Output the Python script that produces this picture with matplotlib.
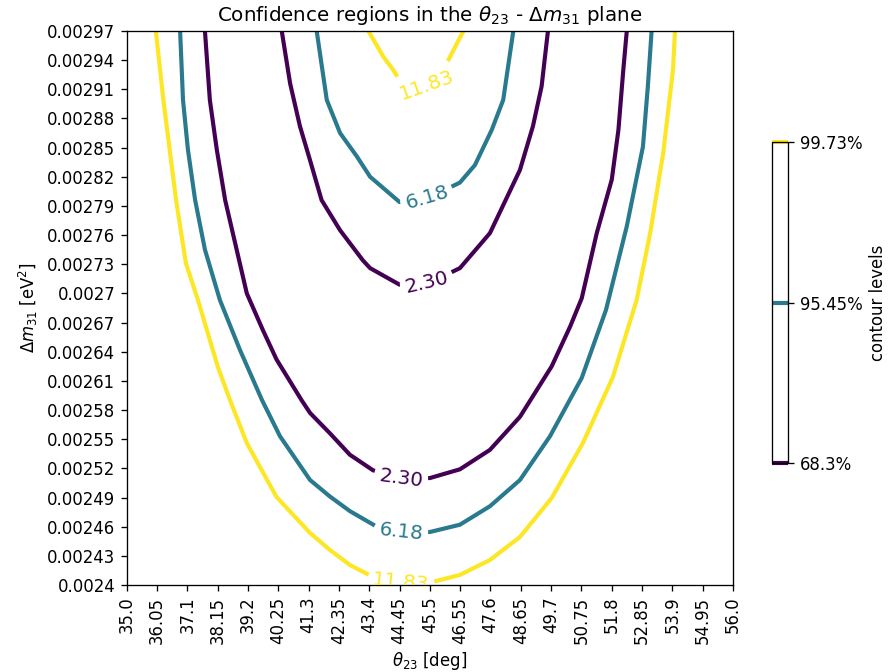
import numpy as np
import matplotlib
matplotlib.use('Agg')
import matplotlib.pyplot as plt
from matplotlib.contour import ContourSet

# chi2 levels and the confidence levels they stand for
chi2_levels = [2.30, 6.18, 11.83]
cl_labels = ['68.3%', '95.45%', '99.73%']

# axis ticks
theta_ticks = [35.0, 36.05, 37.1, 38.15, 39.2, 40.25, 41.3, 42.35, 43.4, 44.45, 45.5,
               46.55, 47.6, 48.65, 49.7, 50.75, 51.8, 52.85, 53.9, 54.95, 56.0]
dm_ticks = [0.0024, 0.00243, 0.00246, 0.00249, 0.00252, 0.00255, 0.00258, 0.00261,
            0.00264, 0.00267, 0.0027, 0.00273, 0.00276, 0.00279, 0.00282, 0.00285,
            0.00288, 0.00291, 0.00294, 0.00297]

# contour lines (theta in deg, dm in 1e-3 eV^2)
# 2.30 (68.3%)
th_230_low = [37.71, 37.88, 38.12, 38.41, 39.16, 39.72, 40.19, 41.06, 41.35, 42.04, 42.73, 43.53,
              44.45, 45.50, 46.54, 47.58, 48.62, 49.72, 50.36, 50.76, 51.28, 51.80, 52.03, 52.20, 52.32]
dm_230_low = [2.970, 2.899, 2.848, 2.796, 2.700, 2.662, 2.632, 2.590, 2.577, 2.556, 2.534, 2.518,
              2.510, 2.510, 2.519, 2.539, 2.573, 2.625, 2.666, 2.695, 2.762, 2.817, 2.868, 2.930, 2.970]
th_230_up = [40.37, 40.66, 41.00, 41.35, 41.75, 42.39, 43.18, 43.43, 44.45, 45.50, 46.54, 47.58, 48.62,
             49.07, 49.37, 49.59]
dm_230_up = [2.970, 2.916, 2.872, 2.837, 2.796, 2.765, 2.734, 2.726, 2.709, 2.711, 2.726, 2.762, 2.827,
             2.872, 2.913, 2.970]
# 6.18 (95.45%)
th_618_low = [36.85, 36.95, 37.12, 37.37, 37.71, 38.23, 38.92, 39.69, 40.31, 41.35, 42.04, 42.73,
              43.66, 44.45, 45.50, 46.54, 47.58, 48.62, 49.66, 50.76, 51.60, 52.32, 52.88, 53.05, 53.18]
dm_618_low = [2.970, 2.899, 2.848, 2.796, 2.745, 2.693, 2.642, 2.590, 2.553, 2.508, 2.491, 2.476,
              2.460, 2.4545, 2.4545, 2.462, 2.481, 2.508, 2.553, 2.613, 2.683, 2.769, 2.851, 2.913, 2.970]
th_618_up = [41.58, 41.93, 42.39, 42.97, 43.43, 44.45, 45.50, 46.54, 47.06, 47.64, 48.04, 48.39]
dm_618_up = [2.970, 2.899, 2.865, 2.841, 2.820, 2.794, 2.799, 2.814, 2.832, 2.868, 2.899, 2.970]
# 11.83 (99.73%)
th_1183_low = [36.01, 36.27, 36.71, 37.05, 37.47, 38.16, 38.58, 39.16, 40.19, 41.35, 42.04, 42.73, 43.53,
               44.45, 45.50, 46.54, 47.58, 48.62, 49.72, 50.80, 51.84, 52.66, 53.13, 53.58, 53.92, 53.99]
dm_1183_low = [2.970, 2.899, 2.796, 2.731, 2.693, 2.624, 2.590, 2.546, 2.4905, 2.4535, 2.436, 2.4206, 2.4082,
               2.4030, 2.4025, 2.4103, 2.4257, 2.4494, 2.4895, 2.546, 2.614, 2.693, 2.762, 2.844, 2.930, 2.970]
th_1183_up = [43.37, 43.89, 44.23, 44.52, 45.50, 46.14, 46.66]
dm_1183_up = [2.970, 2.9435, 2.930, 2.916, 2.9135, 2.940, 2.970]

# where the labels sit
lab_th = [45.4, 45.4, 45.4, 44.5, 44.5, 44.5]
lab_dm = [2.9135, 2.798, 2.7105, 2.510, 2.4545, 2.403]


def seg(th, dm):
    return np.column_stack([th, np.array(dm) * 1e-3])


allsegs = [[seg(th_230_low, dm_230_low), seg(th_230_up, dm_230_up)],
           [seg(th_618_low, dm_618_low), seg(th_618_up, dm_618_up)],
           [seg(th_1183_low, dm_1183_low), seg(th_1183_up, dm_1183_up)]]

dpi = 119
fig = plt.figure(figsize=(891 / dpi, 672 / dpi), dpi=dpi)
ax = fig.add_axes([0.1422, 0.1295, 0.6805, 0.8244])

cs = ContourSet(ax, chi2_levels, allsegs, cmap='viridis', linewidths=2.5)

ax.set_xlim(35.0, 56.0)
ax.set_ylim(0.0024, 0.00297)
ax.set_xticks(theta_ticks)
ax.set_xticklabels([str(t) for t in theta_ticks], rotation=90)
ax.set_yticks(dm_ticks)
ax.set_yticklabels([str(t) for t in dm_ticks])
ax.set_xlabel(r'$\theta_{23}$ [deg]')
ax.set_ylabel(r'$\Delta m_{31}$ [eV$^2$]')
ax.set_title(r'Confidence regions in the $\theta_{23}$ - $\Delta m_{31}$ plane')

ax.clabel(cs, fmt='%.2f', fontsize=12, inline=True,
          manual=[(t, d * 1e-3) for t, d in zip(lab_th, lab_dm)])

cax = fig.add_axes([0.8661, 0.311, 0.0186, 0.4777])
cbar = fig.colorbar(cs, cax=cax)
cbar.set_ticks(chi2_levels, labels=cl_labels)
cbar.set_label('contour levels')

fig.savefig('out.png', dpi=dpi)
